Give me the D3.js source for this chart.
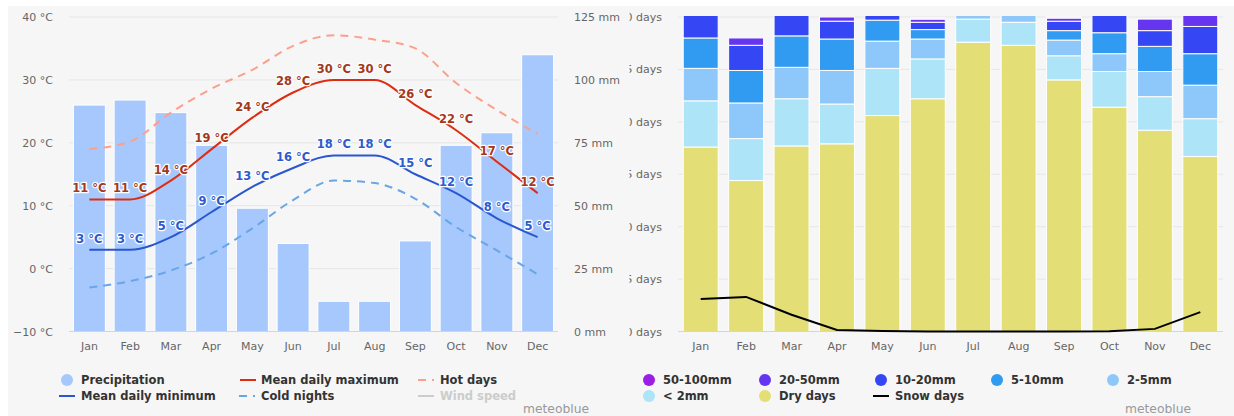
<!DOCTYPE html>
<html><head><meta charset="utf-8">
<script src="https://cdn.jsdelivr.net/npm/d3@7"></script>
<style>
html,body{margin:0;padding:0;background:#fff;}
svg{display:block;font-family:"DejaVu Sans",sans-serif;}
</style></head>
<body>
<svg id="c" width="1234" height="416"></svg>
<script>
// ---------- DATA ----------
const months = ["Jan","Feb","Mar","Apr","May","Jun","Jul","Aug","Sep","Oct","Nov","Dec"];
const precipitation = [90, 92, 87, 74, 49, 35, 12, 12, 36, 74, 79, 110];
const meanMax = [11, 11, 14, 19, 24, 28, 30, 30, 26, 22, 17, 12];
const meanMin = [3, 3, 5, 9, 13, 16, 18, 18, 15, 12, 8, 5];
const hotDays = [19, 20.2, 24.8, 28.6, 31.6, 35.4, 37.1, 36.4, 35.0, 29.5, 25.2, 21.4];
const coldNights = [-3.0, -2.0, -0.3, 2.4, 6.4, 10.9, 14.0, 13.6, 11.1, 6.6, 2.9, -0.9];
const tempTicks = [-10, 0, 10, 20, 30, 40];
const precipTicks = [0, 25, 50, 75, 100, 125];

const dryDays = [17.6, 14.4, 17.7, 17.9, 20.6, 22.2, 27.6, 27.3, 24.0, 21.4, 19.2, 16.7];
const rainLt2 = [4.4, 4.0, 4.5, 3.8, 4.5, 3.8, 2.2, 2.2, 2.3, 3.4, 3.2, 3.6];
const rain2to5 = [3.1, 3.4, 3.0, 3.2, 2.6, 1.9, 1.2, 1.5, 1.5, 1.7, 2.4, 3.2];
const rain5to10 = [2.9, 3.1, 3.0, 3.0, 2.0, 0.9, 0, 0, 0.9, 2.0, 2.4, 3.0];
const rain10to20 = [2.8, 2.4, 2.8, 1.7, 1.3, 0.7, 0, 0, 0.9, 2.3, 1.5, 2.6];
const rain20to50 = [0.2, 0.7, 0, 0.4, 0, 0.3, 0, 0, 0.3, 0.2, 1.1, 1.5];
const rain50to100 = [0, 0, 0, 0, 0, 0.1, 0, 0, 0.1, 0, 0, 0.3];
const snowDays = [3.1, 3.3, 1.6, 0.15, 0.05, 0, 0, 0, 0, 0.02, 0.25, 1.85];
const dayTicks = [0, 5, 10, 15, 20, 25, 30];

const rainKeys = ["dry","lt2","r2_5","r5_10","r10_20","r20_50","r50_100"];
const rainSeries = [dryDays, rainLt2, rain2to5, rain5to10, rain10to20, rain20to50, rain50to100];
const rainColors = ["#e3de76","#ade4f7","#8ec8fa","#319bf2","#3547f4","#6635f0","#9b1ee6"];

// ---------- SETUP ----------
const svg = d3.select("#c");
svg.append("rect").attr("x",8).attr("y",6).attr("width",1226).attr("height",410).attr("fill","#f6f6f6");
const defs = svg.append("defs");

const axisColor = "#666", gridColor = "#e6e6e6", baseColor = "#ccd6eb";

// ---------- LEFT CHART ----------
const L = {x0:69, x1:558, y0:17, y1:331.5};
const xL = d3.scaleBand().domain(months).range([L.x0, L.x1]).paddingInner(0.215).paddingOuter(0.1075);
const yT = d3.scaleLinear().domain([-10,40]).range([L.y1, L.y0]);
const yP = d3.scaleLinear().domain([0,125]).range([L.y1, L.y0]);
const cxL = m => xL(m) + xL.bandwidth()/2;

const gl = svg.append("g");
gl.selectAll(".grid").data(tempTicks.filter(t=>t!==-10)).join("line")
  .attr("x1",L.x0).attr("x2",L.x1).attr("y1",d=>yT(d)).attr("y2",d=>yT(d))
  .attr("stroke",gridColor).attr("stroke-width",1);

const axL = gl.append("g").attr("transform",`translate(${L.x0-16},0)`)
  .call(d3.axisLeft(yT).tickValues(tempTicks).tickSize(0).tickFormat(d=>String(d).replace("-","−")+" °C"));
const axR = gl.append("g").attr("transform",`translate(${L.x1+16},0)`)
  .call(d3.axisRight(yP).tickValues(precipTicks).tickSize(0).tickFormat(d=>d+" mm"));
const axB = gl.append("g").attr("transform",`translate(0,${L.y1+8})`)
  .call(d3.axisBottom(xL).tickSize(0));
[axL,axR,axB].forEach(a=>{a.select(".domain").remove();
  a.selectAll("text").attr("fill",axisColor).attr("font-size","11px").attr("font-family","DejaVu Sans");});
axL.selectAll("text").attr("x",0);
axR.selectAll("text").attr("x",0);

gl.selectAll(".pbar").data(months).join("rect")
  .attr("x",m=>xL(m)).attr("width",xL.bandwidth())
  .attr("y",(m,i)=>yP(precipitation[i])).attr("height",(m,i)=>L.y1-yP(precipitation[i]))
  .attr("fill","#a7c8fd").attr("stroke","#fff").attr("stroke-width",1);

gl.append("line").attr("x1",L.x0).attr("x2",L.x1).attr("y1",L.y1).attr("y2",L.y1)
  .attr("stroke",baseColor).attr("stroke-width",1);

const lineT = arr => d3.line().x((d,i)=>cxL(months[i])).y(d=>yT(d)).curve(d3.curveMonotoneX)(arr);
gl.append("path").attr("d",lineT(hotDays)).attr("fill","none").attr("stroke","#fd9f8b").attr("stroke-width",2).attr("stroke-dasharray","8,6");
gl.append("path").attr("d",lineT(coldNights)).attr("fill","none").attr("stroke","#69a6e6").attr("stroke-width",2).attr("stroke-dasharray","8,6");
gl.append("path").attr("d",lineT(meanMax)).attr("fill","none").attr("stroke","#dd2c10").attr("stroke-width",2);
gl.append("path").attr("d",lineT(meanMin)).attr("fill","none").attr("stroke","#2a56cf").attr("stroke-width",2);

function labels(arr, color){
  gl.selectAll(null).data(arr).join("text")
    .attr("x",(d,i)=>cxL(months[i])).attr("y",d=>yT(d)-7)
    .attr("text-anchor","middle").attr("font-size","11.5px").attr("font-weight","bold")
    .attr("fill",color).attr("stroke","#fff").attr("stroke-width",2.5).attr("stroke-linejoin","round")
    .attr("paint-order","stroke").text(d=>d+" °C");
}
labels(meanMax,"#a3391a");
labels(meanMin,"#2c5bcc");

// left legend
const lg = svg.append("g").attr("font-size","11.5px").attr("font-weight","bold").attr("fill","#333");
function legLine(x,y,color,dash){
  lg.append("line").attr("x1",x).attr("x2",x+16).attr("y1",y).attr("y2",y).attr("stroke",color).attr("stroke-width",2).attr("stroke-dasharray",dash||null);
}
function legText(x,y,t,c){ lg.append("text").attr("x",x).attr("y",y+4).attr("fill",c||"#333").text(t); }
lg.append("circle").attr("cx",67).attr("cy",380).attr("r",6).attr("fill","#a7c8fd");
legText(81,380,"Precipitation");
legLine(240,380,"#dd2c10"); legText(261,380,"Mean daily maximum");
legLine(418,380,"#fd9f8b","8,6"); legText(440,380,"Hot days");
legLine(59,396,"#2a56cf"); legText(81,396,"Mean daily minimum");
legLine(239,396,"#69a6e6","8,6"); legText(261,396,"Cold nights");
legLine(418,396,"#cccccc"); legText(440,396,"Wind speed","#cccccc");
svg.append("text").attr("x",523).attr("y",413).attr("font-size","12.3px").attr("fill","#999").text("meteoblue");

// ---------- RIGHT CHART ----------
const R = {x0:678, x1:1223, y0:17, y1:331.5};
const xR = d3.scaleBand().domain(months).range([R.x0, R.x1]).paddingInner(0.23).paddingOuter(0.115);
const yD = d3.scaleLinear().domain([0,30]).range([R.y1, R.y0]);
const cxR = m => xR(m) + xR.bandwidth()/2;

defs.append("clipPath").attr("id","rplot").append("rect").attr("x",R.x0).attr("y",16).attr("width",R.x1-R.x0).attr("height",R.y1-16+1);
defs.append("clipPath").attr("id","rpanel").append("rect").attr("x",629.5).attr("y",0).attr("width",605).attr("height",416);

const gr = svg.append("g").attr("clip-path","url(#rpanel)");
gr.selectAll(".grid").data(dayTicks.filter(t=>t!==0)).join("line")
  .attr("x1",R.x0).attr("x2",R.x1).attr("y1",d=>yD(d)).attr("y2",d=>yD(d))
  .attr("stroke",gridColor).attr("stroke-width",1);
const axDL = gr.append("g").attr("transform",`translate(${R.x0-16},0)`)
  .call(d3.axisLeft(yD).tickValues(dayTicks).tickSize(0).tickFormat(d=>d+" days"));
const axDB = gr.append("g").attr("transform",`translate(0,${R.y1+8})`)
  .call(d3.axisBottom(xR).tickSize(0));
[axDL,axDB].forEach(a=>{a.select(".domain").remove();
  a.selectAll("text").attr("fill",axisColor).attr("font-size","11px").attr("font-family","DejaVu Sans");});
axDL.selectAll("text").attr("x",0);

const table = months.map((m,i)=>{const o={month:m}; rainKeys.forEach((k,j)=>o[k]=rainSeries[j][i]); return o;});
const stacked = d3.stack().keys(rainKeys)(table);
const gbars = gr.append("g").attr("clip-path","url(#rplot)");
gbars.selectAll("g").data(stacked).join("g").attr("fill",(d,i)=>rainColors[i])
  .selectAll("rect").data(d=>d.filter(s=>s[1]-s[0]>0)).join("rect")
  .attr("x",d=>xR(d.data.month)).attr("width",xR.bandwidth())
  .attr("y",d=>yD(d[1])).attr("height",d=>yD(d[0])-yD(d[1]))
  .attr("stroke","#fff").attr("stroke-width",1);

gr.append("line").attr("x1",R.x0).attr("x2",R.x1).attr("y1",R.y1).attr("y2",R.y1)
  .attr("stroke",baseColor).attr("stroke-width",1);
gr.append("path").attr("d",d3.line().x((d,i)=>cxR(months[i])).y(d=>yD(d))(snowDays))
  .attr("fill","none").attr("stroke","#000").attr("stroke-width",2);

// right legend
const rl = [
  {x:649,y:380,c:rainColors[6],t:"50-100mm"},
  {x:765,y:380,c:rainColors[5],t:"20-50mm"},
  {x:881,y:380,c:rainColors[4],t:"10-20mm"},
  {x:997,y:380,c:rainColors[3],t:"5-10mm"},
  {x:1113,y:380,c:rainColors[2],t:"2-5mm"},
  {x:649,y:396,c:rainColors[1],t:"< 2mm"},
  {x:765,y:396,c:rainColors[0],t:"Dry days"}
];
rl.forEach(d=>{
  lg.append("circle").attr("cx",d.x).attr("cy",d.y).attr("r",6).attr("fill",d.c);
  legText(d.x+14,d.y,d.t);
});
lg.append("line").attr("x1",873).attr("x2",889).attr("y1",396).attr("y2",396).attr("stroke","#000").attr("stroke-width",2);
legText(895,396,"Snow days");
svg.append("text").attr("x",1125).attr("y",413).attr("font-size","12.3px").attr("fill","#999").text("meteoblue");
</script>
</body></html>
